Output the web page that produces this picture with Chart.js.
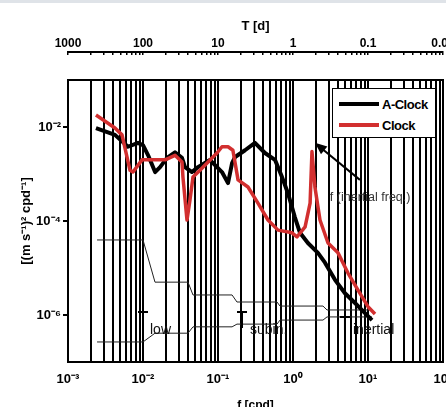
<!DOCTYPE html>
<html>
<head>
<meta charset="utf-8">
<script src="https://cdn.jsdelivr.net/npm/chart.js@4.4.0/dist/chart.umd.min.js"></script>
<style>
  body { margin: 0; background: #fff; }
  #wrap { position: relative; width: 446px; height: 407px; overflow: hidden; background: #fff; }
  #wrap canvas { position: absolute; left: 0; top: 0; }
  #faixa { position: absolute; left: 0; top: 0; width: 446px; height: 3px; background: #dfe3e8; }
  #legenda { position: absolute; left: 332px; top: 88px; width: 102px; height: 48px; border: 1px solid #000; background: #fff;
             font: bold 13px "Liberation Sans", Arial, sans-serif; color: #000; }
  #legenda .linha { position: absolute; left: 6px; width: 40px; height: 4px; }
  #legenda .nome { position: absolute; left: 49px; line-height: 14px; letter-spacing: -0.5px; }
</style>
</head>
<body>
<div id="wrap">
  <canvas id="mainChart" width="446" height="407"></canvas>
  <canvas id="topAxis" width="446" height="407"></canvas>
  <div id="faixa"></div>
  <div id="legenda">
    <div class="linha" style="top:13px; background:#000;"></div>
    <div class="nome" style="top:9px;">A-Clock</div>
    <div class="linha" style="top:34px; background:#d22f2f;"></div>
    <div class="nome" style="top:30px;">Clock</div>
  </div>
</div>
<script>
// Data

const freqAClock = [0.00236, 0.00423, 0.00631, 0.00858, 0.0100, 0.0117, 0.0145, 0.0169, 0.0209, 0.0267,
  0.0331, 0.0363, 0.045, 0.054, 0.078, 0.097, 0.113, 0.136, 0.154, 0.169,
  0.229, 0.311, 0.423, 0.575, 0.714, 0.857, 1.06, 1.24, 1.58, 2.15,
  2.67, 3.63, 4.93, 6.71, 9.12, 11.3];
const aClock = [9.5e-3, 6.8e-3, 3.8e-3, 4.6e-3, 4.1e-3, 2.5e-3, 1.1e-3, 1.4e-3, 2.2e-3, 2.9e-3,
  2.2e-3, 1.4e-3, 1.1e-3, 1.4e-3, 2.0e-3, 1.4e-3, 1.1e-3, 6.4e-4, 1.7e-3, 2.3e-3,
  3.2e-3, 4.6e-3, 2.8e-3, 2.0e-3, 8.6e-4, 3.9e-4, 1.2e-4, 5.6e-5, 3.4e-5, 2.1e-5,
  1.3e-5, 5.6e-6, 2.9e-6, 1.8e-6, 1.1e-6, 7.8e-7];

const freqClock = [0.00236, 0.00423, 0.00525, 0.00671, 0.00736, 0.0097, 0.0136, 0.0197, 0.0267, 0.0331,
  0.0341, 0.0386, 0.0423, 0.0464, 0.0575, 0.0832, 0.097, 0.113, 0.136, 0.158,
  0.185, 0.251, 0.341, 0.464, 0.631, 0.97, 1.13, 1.45, 1.69, 1.79,
  1.96, 2.29, 2.93, 3.98, 5.41, 7.36, 10.0, 12.4];
const clock = [1.8e-2, 9.5e-3, 6.8e-3, 1.2e-3, 1.1e-3, 2.0e-3, 2.0e-3, 2.0e-3, 2.5e-3, 1.8e-3,
  8.6e-4, 1.05e-4, 2.8e-4, 8.6e-4, 1.2e-3, 2.2e-3, 2.8e-3, 3.8e-3, 3.8e-3, 3.2e-3,
  7.5e-4, 5.3e-4, 2.4e-4, 1.05e-4, 6.4e-5, 5.6e-5, 4.6e-5, 7.5e-5, 2.4e-4, 3.0e-3,
  5.3e-4, 1.05e-4, 3.4e-5, 2.1e-5, 7.8e-6, 3.4e-6, 1.5e-6, 1.05e-6];

// confidence limits (steps)
const freqLimits = [0.00244, 0.01, 0.01445, 0.0398, 0.0464, 0.154, 0.179, 0.612, 0.671, 2.51, 2.84, 11.3];
const upperLimit = [3.95e-5, 3.95e-5, 5.0e-6, 5.0e-6, 2.67e-6, 2.67e-6, 1.89e-6, 1.89e-6, 1.55e-6, 1.55e-6, 1.28e-6, 1.28e-6];
const lowerLimit = [2.67e-7, 2.67e-7, 4.1e-7, 4.1e-7, 5.6e-7, 5.6e-7, 6.4e-7, 6.4e-7, 7.8e-7, 7.8e-7, 9.1e-7, 9.1e-7];

// error bars and band names
const barFreq = [0.01, 0.209, 4.93];
const barTop = [1.16e-6, 1.16e-6, 9.1e-7];
const barBottom = [5.6e-7, 5.3e-7, 4.8e-7];
const bandNames = ['low', 'subin.', 'inertial'];
const bandNameFreq = [0.0124, 0.267, 6.31];
const bandNameLevel = 4.8e-7;

// inertial frequency arrow
const arrowFrom = [7.8, 7.5e-4];
const arrowTo = [1.96, 4.6e-3];
const arrowText = 'f (inertial freq.)';
const arrowTextAt = [3.1, 3.1e-4];

// ticks
const xTicks = [1e-3, 1e-2, 1e-1, 1, 10, 100];
const xTickLabels = ['10\u207B\u00B3', '10\u207B\u00B2', '10\u207B\u00B9', '10\u2070', '10\u00B9', '10\u00B2'];
const periodTickLabels = ['1000', '100', '10', '1', '0.1', '0.01'];
const yTicks = [1e-2, 1e-4, 1e-6];
const yTickLabels = ['10\u207B\u00B2', '10\u207B\u2074', '10\u207B\u2076'];

// Helpers

var fonte = '"Liberation Sans", Arial, sans-serif';

var gridValues = [];
for (var e = -3; e < 2; e++) {
  for (var m = 1; m < 10; m++) {
    gridValues.push(m * Math.pow(10, e));
  }
}
gridValues.push(100);

function decadeLabel(value, labels) {
  for (var i = 0; i < xTicks.length; i++) {
    if (Math.abs(value - xTicks[i]) < xTicks[i] * 1e-6) return labels[i];
  }
  return '';
}

function pontos(fs, vs) {
  return fs.map(function (f, i) { return { x: f, y: vs[i] }; });
}

// Extras: box, error bars, labels, arrow

var extras = {
  id: 'extras',
  afterDatasetsDraw: function (chart) {
    var ctx = chart.ctx;
    var sx = chart.scales.x;
    var sy = chart.scales.y;
    ctx.save();

    ctx.strokeStyle = '#000';
    ctx.lineWidth = 2;
    barFreq.forEach(function (f, i) {
      var px = sx.getPixelForValue(f);
      var top = sy.getPixelForValue(barTop[i]);
      var bot = sy.getPixelForValue(barBottom[i]);
      ctx.beginPath();
      ctx.moveTo(px - 5, top);
      ctx.lineTo(px + 5, top);
      ctx.moveTo(px, top);
      ctx.lineTo(px, bot);
      ctx.stroke();
    });

    ctx.fillStyle = '#111';
    ctx.font = '14px ' + fonte;
    ctx.textBaseline = 'middle';
    ctx.textAlign = 'left';
    bandNames.forEach(function (nome, i) {
      ctx.fillText(nome, sx.getPixelForValue(bandNameFreq[i]), sy.getPixelForValue(bandNameLevel));
    });

    var x1 = sx.getPixelForValue(arrowFrom[0]), y1 = sy.getPixelForValue(arrowFrom[1]);
    var x2 = sx.getPixelForValue(arrowTo[0]), y2 = sy.getPixelForValue(arrowTo[1]);
    var ang = Math.atan2(y2 - y1, x2 - x1);
    ctx.lineWidth = 2;
    ctx.beginPath();
    ctx.moveTo(x1, y1);
    ctx.lineTo(x2 - 8 * Math.cos(ang), y2 - 8 * Math.sin(ang));
    ctx.stroke();
    ctx.fillStyle = '#000';
    ctx.beginPath();
    ctx.moveTo(x2, y2);
    ctx.lineTo(x2 - 12 * Math.cos(ang) + 5 * Math.sin(ang), y2 - 12 * Math.sin(ang) - 5 * Math.cos(ang));
    ctx.lineTo(x2 - 12 * Math.cos(ang) - 5 * Math.sin(ang), y2 - 12 * Math.sin(ang) + 5 * Math.cos(ang));
    ctx.closePath();
    ctx.fill();

    ctx.fillStyle = '#333';
    ctx.font = '12.5px ' + fonte;
    ctx.fillText(arrowText, sx.getPixelForValue(arrowTextAt[0]), sy.getPixelForValue(arrowTextAt[1]));

    var a = chart.chartArea;
    ctx.strokeStyle = '#000';
    ctx.lineWidth = 2;
    ctx.strokeRect(a.left, a.top, a.right - a.left, a.bottom - a.top);
    ctx.restore();
  }
};

// Main chart

var ctxMain = document.getElementById('mainChart').getContext('2d');

var mainChart = new Chart(ctxMain, {
  type: 'line',
  data: {
    datasets: [
      { label: 'Clock', data: pontos(freqClock, clock), borderColor: '#d22f2f', borderWidth: 3.5,
        pointRadius: 0, tension: 0, borderJoinStyle: 'round', order: 0 },
      { label: 'A-Clock', data: pontos(freqAClock, aClock), borderColor: '#000', borderWidth: 4,
        pointRadius: 0, tension: 0, borderJoinStyle: 'round', order: 1 },
      { label: 'upper', data: pontos(freqLimits, upperLimit), borderColor: '#222', borderWidth: 1,
        pointRadius: 0, tension: 0, order: 2 },
      { label: 'lower', data: pontos(freqLimits, lowerLimit), borderColor: '#222', borderWidth: 1,
        pointRadius: 0, tension: 0, order: 2 }
    ]
  },
  options: {
    responsive: false,
    animation: false,
    layout: { padding: { top: 80, right: 3, left: 0, bottom: 0 } },
    plugins: {
      legend: { display: false },
      tooltip: { enabled: false }
    },
    scales: {
      x: {
        type: 'logarithmic',
        min: 1e-3,
        max: 1e2,
        afterBuildTicks: function (axis) {
          axis.ticks = gridValues.map(function (v) { return { value: v }; });
        },
        afterFit: function (axis) {
          axis.height = 45;
          axis.paddingLeft = 0;
          axis.paddingRight = 0;
        },
        grid: { color: '#000', lineWidth: 2, drawTicks: false },
        border: { color: '#000', width: 2 },
        ticks: {
          autoSkip: false,
          maxRotation: 0,
          padding: 10,
          color: '#000',
          font: { family: fonte, size: 13, weight: 'bold' },
          callback: function (value) { return decadeLabel(value, xTickLabels); }
        },
        title: {
          display: true,
          text: 'f [cpd]',
          color: '#000',
          font: { family: fonte, size: 12, weight: 'bold' },
          padding: { top: 0, bottom: -6 }
        }
      },
      y: {
        type: 'logarithmic',
        min: 1e-7,
        max: 1e-1,
        afterBuildTicks: function (axis) {
          axis.ticks = yTicks.map(function (v) { return { value: v }; });
        },
        afterFit: function (axis) {
          axis.width = 68;
          axis.paddingTop = 0;
          axis.paddingBottom = 0;
        },
        grid: { drawOnChartArea: false, color: '#000', lineWidth: 2, tickLength: 5 },
        border: { color: '#000', width: 2 },
        ticks: {
          padding: 2,
          color: '#000',
          font: { family: fonte, size: 13, weight: 'bold' },
          callback: function (value, index) { return yTickLabels[index]; }
        },
        title: {
          display: true,
          text: '[(m s\u207B\u00B9)\u00B2 cpd\u207B\u00B9]',
          color: '#000',
          font: { family: fonte, size: 13, weight: 'bold' },
          padding: { top: 19, bottom: 0 }
        }
      }
    }
  },
  plugins: [extras]
});

// Period axis on top (T = 1/f)

var ctxTop = document.getElementById('topAxis').getContext('2d');

var topChart = new Chart(ctxTop, {
  type: 'line',
  data: { datasets: [] },
  options: {
    responsive: false,
    animation: false,
    layout: { padding: { left: 68, right: 3, top: 0, bottom: 352 } },
    plugins: {
      legend: { display: false },
      tooltip: { enabled: false }
    },
    scales: {
      x: {
        type: 'logarithmic',
        position: 'top',
        min: 1e-3,
        max: 1e2,
        afterBuildTicks: function (axis) {
          axis.ticks = gridValues.map(function (v) { return { value: v }; });
        },
        afterFit: function (axis) {
          axis.height = 52;
          axis.paddingLeft = 0;
          axis.paddingRight = 0;
        },
        grid: { color: '#000', lineWidth: 1.5, drawTicks: false },
        border: { color: '#000', width: 2 },
        ticks: {
          autoSkip: false,
          maxRotation: 0,
          padding: 1,
          color: '#000',
          font: { family: fonte, size: 12, weight: 'bold' },
          callback: function (value) { return decadeLabel(value, periodTickLabels); }
        },
        title: {
          display: true,
          text: 'T [d]',
          color: '#000',
          font: { family: fonte, size: 13, weight: 'bold' },
          padding: { top: 19, bottom: 0 }
        }
      },
      y: { display: false, min: 0, max: 1 }
    }
  }
});
</script>
</body>
</html>
